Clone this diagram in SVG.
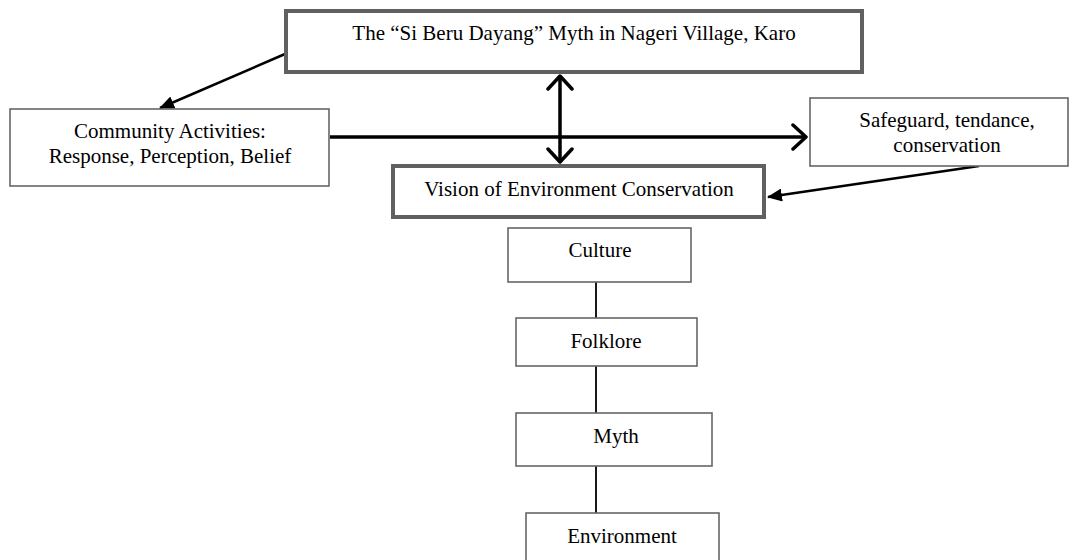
<svg xmlns="http://www.w3.org/2000/svg" width="1070" height="560" viewBox="0 0 1070 560">
<style>
.t{font-family:"Liberation Serif","Times New Roman",serif;font-size:21px;fill:#000;text-anchor:middle}
.thick{fill:#fff;stroke:#606060;stroke-width:4}
.thin{fill:#fff;stroke:#666;stroke-width:1.6}
.c{stroke:#000;fill:none}
</style>
<defs>
<marker id="tri" markerWidth="15" markerHeight="13" refX="14" refY="6.5" orient="auto" markerUnits="userSpaceOnUse" viewBox="0 0 15 13">
<path d="M0,0 L15,6.5 L0,13 z" fill="#000"/>
</marker>
<marker id="open" markerWidth="18" markerHeight="28" refX="15" refY="14" orient="auto-start-reverse" markerUnits="userSpaceOnUse" viewBox="0 0 18 28">
<path d="M2,2 L15,14 L2,26" fill="none" stroke="#000" stroke-width="3.5" stroke-linecap="round" stroke-linejoin="round"/>
</marker>
</defs>
<g id="connectors">
<line class="c" x1="285" y1="54" x2="160" y2="108" stroke-width="2.5" marker-end="url(#tri)"/>
<line class="c" x1="330" y1="137" x2="806" y2="137" stroke-width="3.5" marker-end="url(#open)"/>
<line class="c" x1="560" y1="76" x2="560" y2="162" stroke-width="3.5" marker-start="url(#open)" marker-end="url(#open)"/>
<line class="c" x1="979" y1="166" x2="768" y2="197" stroke-width="2.5" marker-end="url(#tri)"/>
<line class="c" x1="596" y1="282" x2="596" y2="318" stroke-width="1.8"/>
<line class="c" x1="596" y1="366" x2="596" y2="413" stroke-width="1.8"/>
<line class="c" x1="596" y1="466" x2="596" y2="513" stroke-width="1.8"/>
</g>
<g id="myth-title">
<rect class="thick" x="286" y="11" width="576" height="61"/>
<text class="t" x="574" y="40">The “Si Beru Dayang” Myth in Nageri Village, Karo</text>
</g>
<g id="community">
<rect class="thin" x="10" y="109" width="319" height="77"/>
<text class="t" x="170" y="138">Community Activities:</text>
<text class="t" x="170" y="163">Response, Perception, Belief</text>
</g>
<g id="safeguard">
<rect class="thin" x="810" y="98" width="258" height="68"/>
<text class="t" x="947" y="127">Safeguard, tendance,</text>
<text class="t" x="947" y="152">conservation</text>
</g>
<g id="vision">
<rect class="thick" x="393" y="166" width="371" height="51"/>
<text class="t" x="579" y="196">Vision of Environment Conservation</text>
</g>
<g id="culture">
<rect class="thin" x="508" y="228" width="183" height="54"/>
<text class="t" x="600" y="257">Culture</text>
</g>
<g id="folklore">
<rect class="thin" x="516" y="318" width="181" height="48"/>
<text class="t" x="606" y="348">Folklore</text>
</g>
<g id="myth">
<rect class="thin" x="516" y="413" width="196" height="53"/>
<text class="t" x="616" y="443">Myth</text>
</g>
<g id="environment">
<rect class="thin" x="526" y="513" width="193" height="60"/>
<text class="t" x="622" y="543">Environment</text>
</g>
</svg>
